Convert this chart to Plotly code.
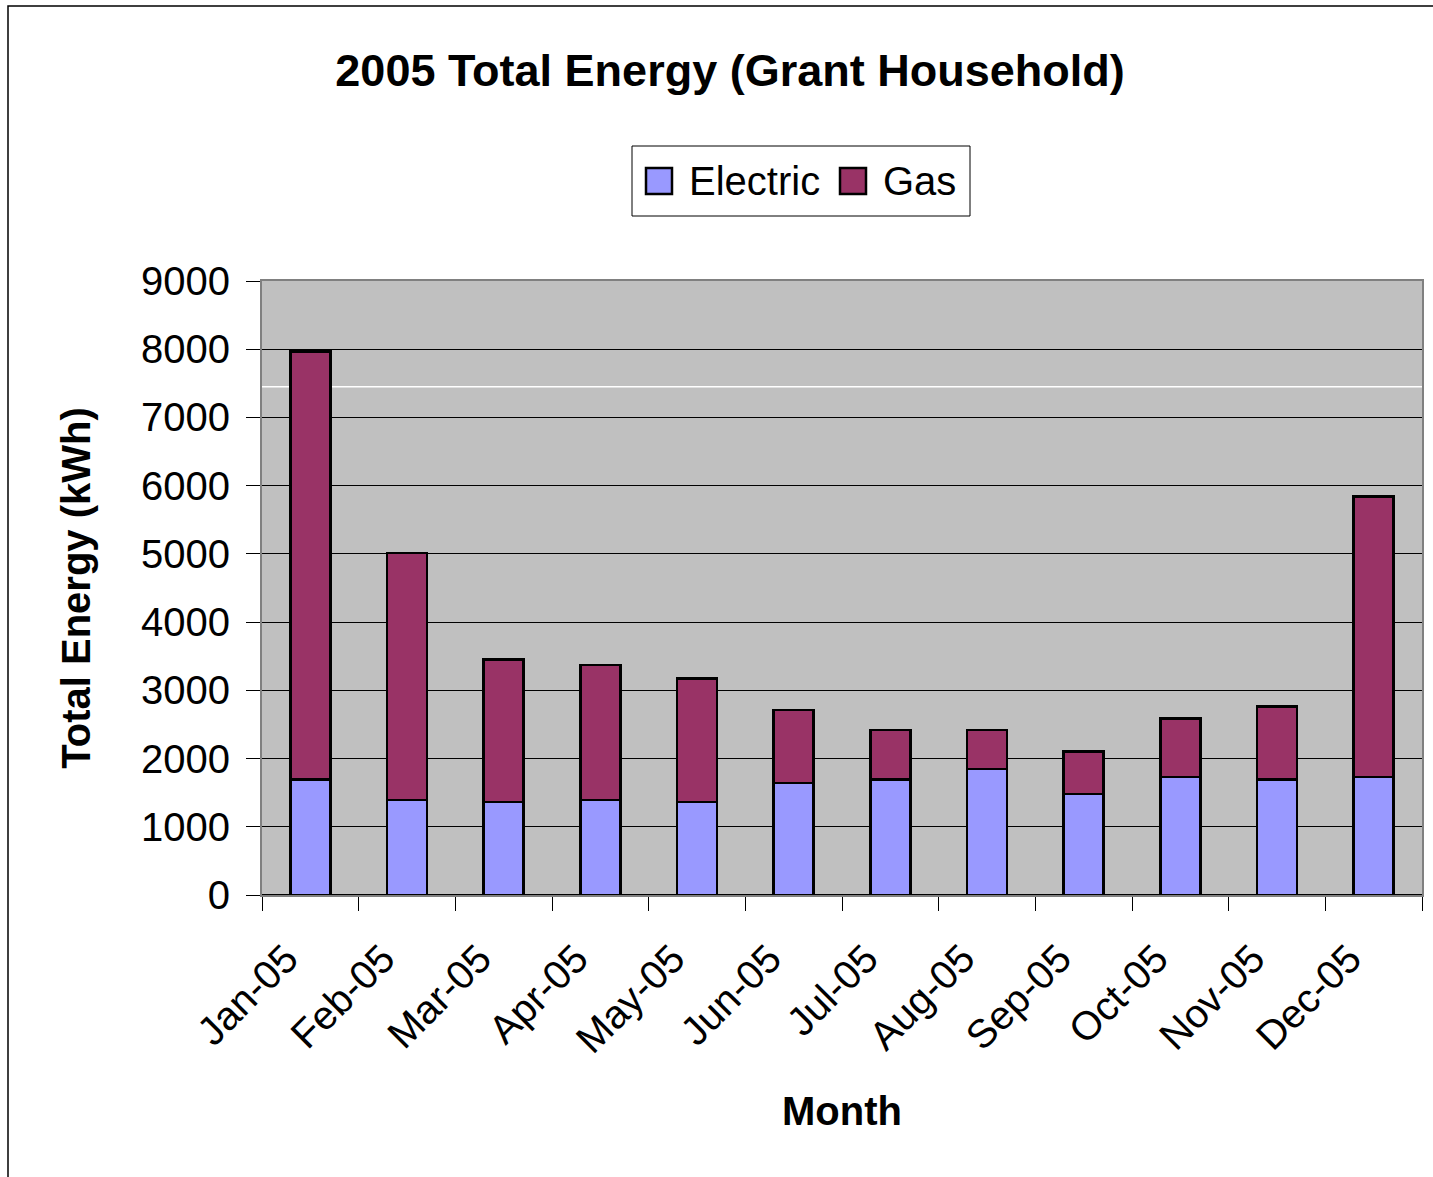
import plotly.graph_objects as go

months = ["Jan-05", "Feb-05", "Mar-05", "Apr-05", "May-05", "Jun-05",
          "Jul-05", "Aug-05", "Sep-05", "Oct-05", "Nov-05", "Dec-05"]
electric = [1690, 1390, 1360, 1390, 1360, 1640, 1690, 1850, 1480, 1730, 1690, 1730]
totals = [7970, 5010, 3450, 3370, 3170, 2710, 2420, 2420, 2100, 2590, 2760, 5840]
gas = [t - e for t, e in zip(totals, electric)]
series_names = ["Electric", "Gas"]
series_colors = ["#9999FF", "#993366"]

W, H = 1433, 1177
L, R, T, B = 262, 11, 281, 282
pw, ph = W - L - R, H - T - B

FONT = "Liberation Sans, Arial, sans-serif"


def px_x(p):
    return (p - L) / pw


def px_y(p):
    return 1 - (p - T) / ph


fig = go.Figure()
for name, vals, col in zip(series_names, [electric, gas], series_colors):
    fig.add_trace(go.Bar(name=name, x=months, y=vals, showlegend=False,
                         marker=dict(color=col, line=dict(color="black", width=2.5))))

fig.update_layout(
    width=W, height=H,
    barmode="stack", bargap=0.585,
    paper_bgcolor="white", plot_bgcolor="#C0C0C0",
    margin=dict(l=L, r=R, t=T, b=B, autoexpand=False),
    font=dict(family=FONT, color="black", size=40),
    title=dict(text="<b>2005 Total Energy (Grant Household)</b>",
               font=dict(size=45, family=FONT), x=730 / W, xanchor="center",
               y=1 - 70 / H, yanchor="middle", xref="container", yref="container"),
    showlegend=False,
)
fig.update_xaxes(
    type="category", tickson="boundaries", ticks="outside", ticklen=14,
    tickcolor="black", tickangle=-45, showgrid=False,
    showline=True, linecolor="#808080", mirror=True, linewidth=2,
    tickfont=dict(size=40, family=FONT), ticklabelshift=-24, ticklabelstandoff=22,
    title=dict(text="<b>Month</b>", font=dict(size=40, family=FONT), standoff=37),
)
fig.update_yaxes(
    range=[0, 9000], dtick=1000, ticks="outside", ticklen=14, tickcolor="black",
    showgrid=True, gridcolor="black", gridwidth=1,
    zeroline=True, zerolinecolor="black", zerolinewidth=2,
    showline=True, linecolor="#808080", mirror=True, linewidth=2,
    tickfont=dict(size=40, family=FONT), ticklabelstandoff=8,
    title=dict(text="<b>Total Energy (kWh)</b>", font=dict(size=40, family=FONT), standoff=38),
)

# light artifact line seen in the reference plot area
fig.add_shape(type="line", xref="paper", yref="y", x0=0, x1=1, y0=7450, y1=7450,
              line=dict(color="white", width=1.5), layer="below")
# outer chart border
fig.add_shape(type="rect", xref="paper", yref="paper",
              x0=px_x(8), x1=px_x(W + 20), y0=px_y(6), y1=px_y(H + 20),
              line=dict(color="black", width=1.5), fillcolor="rgba(0,0,0,0)")

# legend (drawn manually to get large square swatches)
fig.add_shape(type="rect", xref="paper", yref="paper",
              x0=px_x(632), x1=px_x(970), y0=px_y(146), y1=px_y(216),
              line=dict(color="black", width=1), fillcolor="white")
swatch_x = [646, 840]
text_x = [687, 881]
for sx, tx, name, col in zip(swatch_x, text_x, series_names, series_colors):
    fig.add_shape(type="rect", xref="paper", yref="paper",
                  x0=px_x(sx), x1=px_x(sx + 26), y0=px_y(168), y1=px_y(194),
                  line=dict(color="black", width=2.5), fillcolor=col)
    fig.add_annotation(xref="paper", yref="paper", x=px_x(tx), y=px_y(181),
                       xanchor="left", yanchor="middle", text=name, showarrow=False,
                       font=dict(size=40, family=FONT, color="black"))

fig.write_html("out.html", config={"displayModeBar": False},
               post_script="document.body.style.margin='0';document.body.style.overflow='hidden';")
